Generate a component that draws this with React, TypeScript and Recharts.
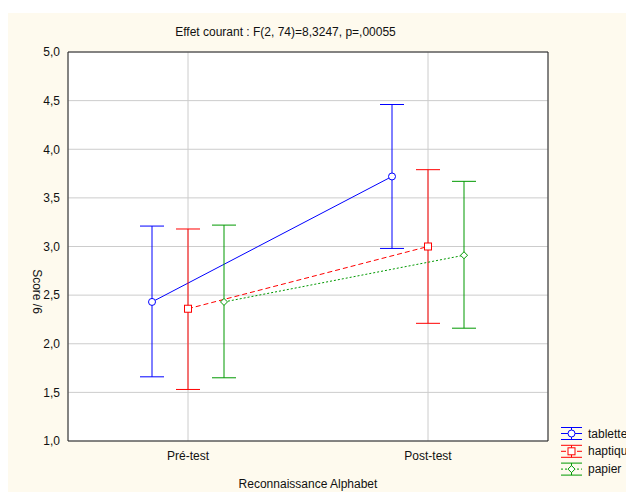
import React from "react";
import { ComposedChart, Line, ErrorBar, XAxis, YAxis, CartesianGrid, ReferenceArea, Legend, Label } from "recharts";

const FONT = '"Liberation Sans", Arial, sans-serif';
const TITLE = "Effet courant : F(2, 74)=8,3247, p=,00055";

// categories on the x axis
const categories = ["Pré-test", "Post-test"];
const yTicks = [1, 1.5, 2, 2.5, 3, 3.5, 4, 4.5, 5];

// means and confidence limits
const tabletteMean = [2.43, 3.72];
const tabletteLow = [1.66, 2.98];
const tabletteHigh = [3.21, 4.46];

const haptiqueMean = [2.36, 3.0];
const haptiqueLow = [1.53, 2.21];
const haptiqueHigh = [3.18, 3.79];

const papierMean = [2.43, 2.91];
const papierLow = [1.65, 2.16];
const papierHigh = [3.22, 3.67];

// each group is drawn a little left / right of its category
const buildRows = (mean: number[], low: number[], high: number[], shift: number) =>
  mean.map((m, i) => ({ x: i + 0.5 + shift, y: m, err: [m - low[i], high[i] - m] }));

const series = [
  { name: "tablette", color: "#0000ff", dash: undefined, marker: "circle", rows: buildRows(tabletteMean, tabletteLow, tabletteHigh, -0.15) },
  { name: "haptique", color: "#ff0000", dash: "5 3", marker: "square", rows: buildRows(haptiqueMean, haptiqueLow, haptiqueHigh, 0) },
  { name: "papier", color: "#009900", dash: "2 2", marker: "diamond", rows: buildRows(papierMean, papierLow, papierHigh, 0.15) },
];

function Marker({ kind, cx, cy, color }: any) {
  if (kind === "square") return <rect x={cx - 3.5} y={cy - 3.5} width={7} height={7} fill="#fff" stroke={color} />;
  if (kind === "diamond")
    return <path d={`M${cx},${cy - 3.5}L${cx + 3.5},${cy}L${cx},${cy + 3.5}L${cx - 3.5},${cy}Z`} fill="#fff" stroke={color} />;
  return <circle cx={cx} cy={cy} r={3.5} fill="#fff" stroke={color} />;
}

function LegendBox({ payload }: any) {
  const names = (payload || []).map((it: any) => it.value);
  // keep the series order, not the order recharts hands over
  const items = series.filter((s) => names.includes(s.name));
  return (
    <svg width={90} height={62} style={{ overflow: "visible" }}>
      {items.map((s, i) => {
        const y = 10.5 + i * 17.8;
        return (
          <g key={s.name}>
            <line x1={3} x2={24} y1={y - 6} y2={y - 6} stroke={s.color} />
            <line x1={3} x2={24} y1={y + 6} y2={y + 6} stroke={s.color} />
            <line x1={13.5} x2={13.5} y1={y - 6} y2={y + 6} stroke={s.color} />
            <line x1={3} x2={24} y1={y} y2={y} stroke={s.color} strokeDasharray={s.dash} />
            <Marker kind={s.marker} cx={13.5} cy={y} color={s.color} />
            <text x={30} y={y + 4} fontSize={12} fontFamily={FONT} fill="#111">{s.name}</text>
          </g>
        );
      })}
    </svg>
  );
}

export default function App() {
  return (
    <div style={{ paddingTop: 5 }}>
      <div style={{ width: 626, height: 479, background: "#fefaee", position: "relative", overflow: "hidden", fontFamily: FONT }}>
        <div style={{ position: "absolute", left: 0, top: 12, width: 555, textAlign: "center", fontSize: 12, lineHeight: "14px", color: "#111" }}>
          {TITLE}
        </div>
        <ComposedChart width={626} height={479} margin={{ top: 39, right: 86, bottom: 0, left: 0 }}>
          <CartesianGrid fill="#ffffff" stroke="#cccccc" />
          <XAxis
            type="number"
            dataKey="x"
            domain={[0, 2]}
            ticks={[0.5, 1.5]}
            tickFormatter={(v: number) => categories[Math.floor(v)]}
            height={51}
            axisLine={false}
            tickLine={false}
            tickMargin={4}
            tick={{ fontSize: 12, fill: "#111", fontFamily: FONT }}
          >
            <Label value="Reconnaissance Alphabet" position="insideBottom" offset={4} style={{ fontSize: 12, fill: "#111", fontFamily: FONT }} />
          </XAxis>
          <YAxis
            type="number"
            domain={[1, 5]}
            ticks={yTicks}
            tickFormatter={(v: number) => v.toFixed(1).replace(".", ",")}
            width={60}
            axisLine={false}
            tickLine={false}
            tick={{ fontSize: 12, fill: "#111", fontFamily: FONT }}
          >
            <Label
              content={(p: any) => {
                const vb = p.viewBox;
                const x = vb.x + 29;
                const y = vb.y + vb.height / 2 + 45;
                return (
                  <text x={x} y={y} transform={`rotate(90 ${x} ${y})`} textAnchor="middle" dominantBaseline="central" fontSize={12} fontFamily={FONT} fill="#111">
                    Score /6
                  </text>
                );
              }}
            />
          </YAxis>
          <ReferenceArea x1={0} x2={2} y1={1} y2={5} fill="none" stroke="#222" strokeWidth={1} ifOverflow="visible" />
          {series.map((s) => (
            <Line
              key={s.name}
              name={s.name}
              data={s.rows}
              dataKey="y"
              stroke={s.color}
              strokeWidth={1}
              strokeDasharray={s.dash}
              isAnimationActive={false}
              dot={(p: any) => <Marker key={`${s.name}-${p.index}`} kind={s.marker} cx={p.cx} cy={p.cy} color={s.color} />}
              activeDot={false}
            >
              <ErrorBar dataKey="err" width={12} stroke={s.color} strokeWidth={1} direction="y" isAnimationActive={false} />
            </Line>
          ))}
          <Legend
            layout="horizontal"
            verticalAlign="middle"
            align="center"
            content={(p: any) => <LegendBox payload={p.payload} />}
            wrapperStyle={{ left: 550, top: 410, width: 90, height: 62 }}
          />
        </ComposedChart>
      </div>
    </div>
  );
}
